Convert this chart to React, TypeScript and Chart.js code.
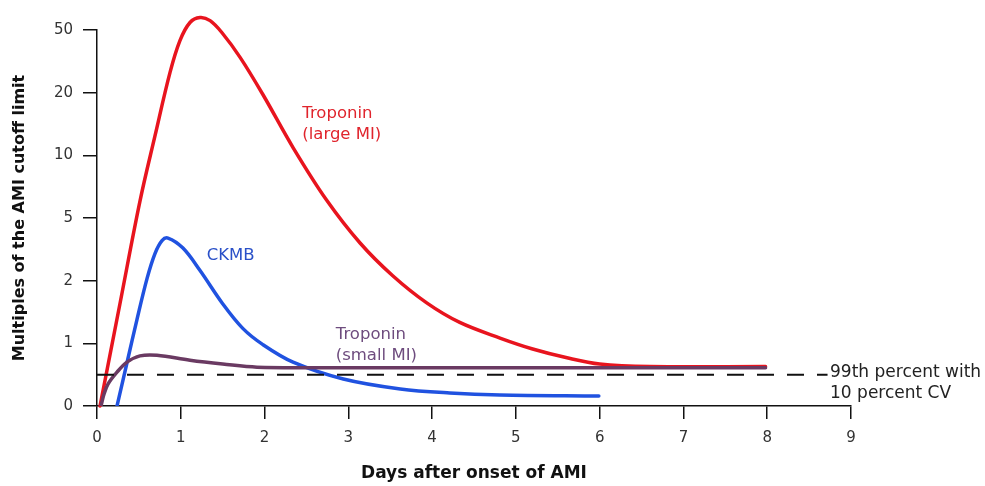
import React, { useEffect, useRef } from "react";
import { Chart, registerables } from "chart.js";

Chart.register(...registerables);

// Y axis tick values (stepped, non-uniform scale) and labels
const yTickValues = [0, 1, 2, 5, 10, 20, 50];
const yTickLabels = ["0", "1", "2", "5", "10", "20", "50"];
const xTickLabels = ["0", "1", "2", "3", "4", "5", "6", "7", "8", "9"];

// Troponin (large MI)
const tropLargeDays = [0.036, 0.274, 0.513, 0.692, 0.871, 0.99, 1.11, 1.23, 1.35, 1.49, 1.71, 1.98, 2.34, 2.74, 3.14, 3.53, 3.94, 4.33, 4.81, 5.2, 5.61, 6.0, 6.6, 7.98];
const tropLargeValues = [0, 1.55, 6.03, 12.4, 26.8, 42.8, 55.8, 60, 57.3, 48.2, 33.4, 19.6, 10.9, 6.1, 3.47, 2.15, 1.56, 1.26, 1.06, 0.91, 0.77, 0.67, 0.63, 0.63];

// CKMB
const ckmbDays = [0.239, 0.358, 0.477, 0.597, 0.692, 0.776, 0.847, 1.026, 1.23, 1.5, 1.74, 1.98, 2.34, 2.94, 3.62, 4.21, 4.81, 5.99];
const ckmbValues = [0, 0.69, 1.3, 2.06, 2.97, 3.59, 3.73, 3.22, 2.32, 1.55, 1.18, 0.98, 0.7, 0.431, 0.272, 0.208, 0.176, 0.16];

// Troponin (small MI)
const tropSmallDays = [0.048, 0.084, 0.131, 0.239, 0.358, 0.513, 0.716, 1.11, 1.5, 1.91, 3.6, 7.98];
const tropSmallValues = [0, 0.19, 0.35, 0.54, 0.7, 0.8, 0.81, 0.73, 0.67, 0.62, 0.61, 0.61];

// 99th percentile with 10 percent CV reference line
const cutoffDays = [0, 8.72];
const cutoffValues = [0.5, 0.5];

// map a value onto the stepped axis (linear 0-1, log between further ticks)
function toAxis(v: number): number {
  if (v <= 1) return v;
  for (let i = 1; i < yTickValues.length - 1; i++) {
    if (v <= yTickValues[i + 1]) {
      return i + Math.log(v / yTickValues[i]) / Math.log(yTickValues[i + 1] / yTickValues[i]);
    }
  }
  const n = yTickValues.length - 1;
  return n + Math.log(v / yTickValues[n]) / Math.log(yTickValues[n] / yTickValues[n - 1]);
}

function toPoints(days: number[], values: number[]) {
  return days.map((d, i) => ({ x: d, y: toAxis(values[i]) }));
}

const FONT = "'DejaVu Sans', Verdana, sans-serif";

const labels = [
  { lines: ["Troponin", "(large MI)"], day: 2.45, value: 15.8, color: "#e0242c", size: 16.5 },
  { lines: ["CKMB"], day: 1.31, value: 2.88, color: "#2a50c8", size: 16.5 },
  { lines: ["Troponin", "(small MI)"], day: 2.85, value: 1.1, color: "#6e4c7e", size: 16.5 },
  { lines: ["99th percent with", "10 percent CV"], day: 8.75, value: 0.53, color: "#222222", size: 17 },
];

const textPlugin = {
  id: "textLabels",
  afterDraw(chart: any) {
    const ctx = chart.ctx;
    const xs = chart.scales.x;
    const ys = chart.scales.y;
    ctx.save();
    ctx.textAlign = "left";
    ctx.textBaseline = "middle";
    labels.forEach((l) => {
      ctx.font = `${l.size}px ${FONT}`;
      const px = xs.getPixelForValue(l.day);
      const py = ys.getPixelForValue(toAxis(l.value));
      ctx.fillStyle = l.color;
      l.lines.forEach((t, i) => ctx.fillText(t, px, py + i * 21));
    });
    ctx.restore();
  },
};

const curve = {
  borderWidth: 3.5,
  pointRadius: 0,
  tension: 0.35,
  borderJoinStyle: "round",
  borderCapStyle: "round",
};

export default function App() {
  const ref = useRef<HTMLCanvasElement>(null);
  useEffect(() => {
    document.body.style.margin = "0";
    const canvas = ref.current!;
    const chart = new Chart(canvas, {
      type: "line",
      data: {
        datasets: [
          {
            data: toPoints(cutoffDays, cutoffValues),
            borderColor: "#111111",
            borderWidth: 2,
            borderDash: [17, 13],
            pointRadius: 0,
            tension: 0,
          },
          {
            ...curve,
            data: toPoints(tropSmallDays, tropSmallValues),
            borderColor: "#6a3a62",
          },
          {
            ...curve,
            data: toPoints(ckmbDays, ckmbValues),
            borderColor: "#2052e0",
          },
          {
            ...curve,
            data: toPoints(tropLargeDays, tropLargeValues),
            borderColor: "#e8141e",
            clip: false as any,
          },
        ] as any,
      },
      options: {
        responsive: false,
        animation: false,
        layout: { padding: { left: 0, right: 134, top: 30, bottom: 0 } },
        plugins: { legend: { display: false }, tooltip: { enabled: false } },
        scales: {
          x: {
            type: "linear",
            min: 0,
            max: 9,
            ticks: {
              stepSize: 1,
              padding: 10,
              color: "#333",
              font: { family: FONT, size: 15 },
              callback: (v: any) => xTickLabels[v] ?? "",
            },
            grid: { drawOnChartArea: false, drawTicks: true, tickLength: 13, color: "#111", lineWidth: 1.5 },
            border: { color: "#111", width: 1.5 },
            title: {
              display: true,
              text: "Days after onset of AMI",
              color: "#111",
              font: { family: FONT, size: 17, weight: "bold" },
              padding: { top: 0, bottom: 2 },
            },
            afterFit: (s: any) => {
              s.height = 80;
            },
          },
          y: {
            type: "linear",
            min: 0,
            max: 6,
            ticks: {
              stepSize: 1,
              padding: 10,
              color: "#333",
              font: { family: FONT, size: 15 },
              callback: (v: any) => yTickLabels[v] ?? "",
            },
            grid: { drawOnChartArea: false, drawTicks: true, tickLength: 14, color: "#111", lineWidth: 1.5 },
            border: { color: "#111", width: 1.5 },
            title: {
              display: true,
              text: "Multiples of the AMI cutoff limit",
              color: "#111",
              font: { family: FONT, size: 16, weight: "bold" },
              padding: { top: 10, bottom: 0 },
            },
            afterFit: (s: any) => {
              s.width = 97;
            },
          },
        },
      } as any,
      plugins: [textPlugin],
    });
    return () => chart.destroy();
  }, []);
  return (
    <div style={{ width: 985, height: 486, background: "#fff" }}>
      <canvas ref={ref} width={985} height={486} />
    </div>
  );
}
